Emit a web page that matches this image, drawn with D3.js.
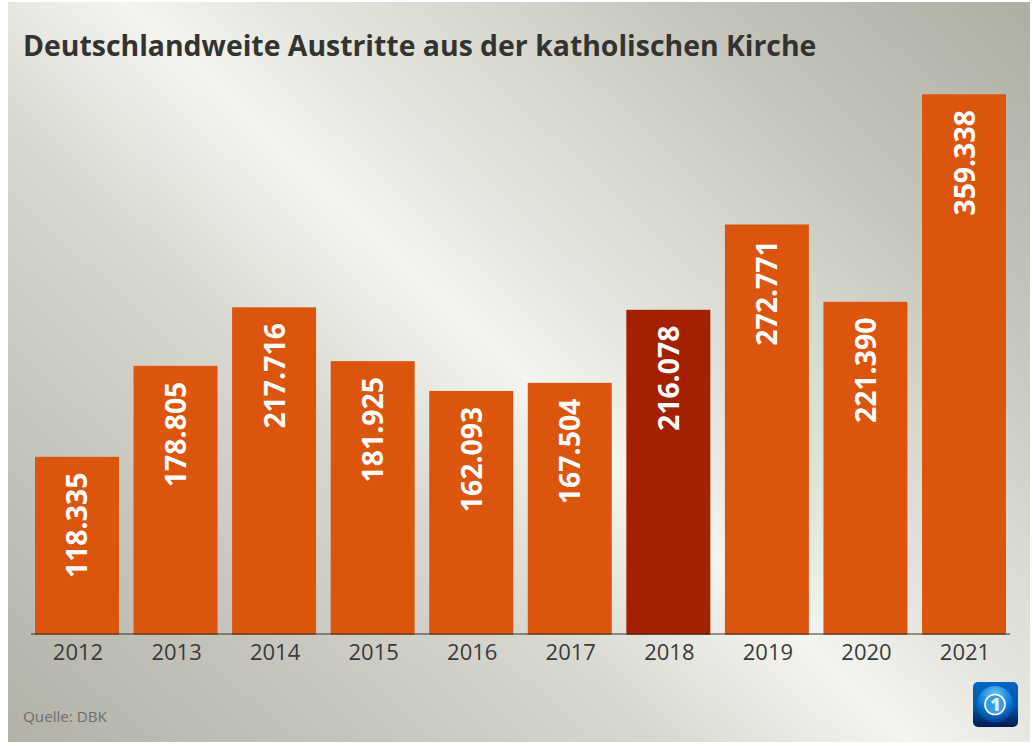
<!DOCTYPE html>
<html><head><meta charset="utf-8">
<script src="https://d3js.org/d3.v7.min.js"></script>
<style>html,body{margin:0;padding:0;background:#fff}svg{display:block}</style></head>
<body><svg id="c" width="1033" height="746"></svg>
<script>
const years=["2012","2013","2014","2015","2016","2017","2018","2019","2020","2021"];
const values=[118335,178805,217716,181925,162093,167504,216078,272771,221390,359338];
const labels=["118.335","178.805","217.716","181.925","162.093","167.504","216.078","272.771","221.390","359.338"];
const highlightYear="2018";
const titleText="Deutschlandweite Austritte aus der katholischen Kirche";
const sourceText="Quelle: DBK";
const font="'Open Sans','Noto Sans',sans-serif";
const svg=d3.select("#c");
const defs=svg.append("defs");
const bgGrad=defs.append("linearGradient").attr("id","bg").attr("gradientUnits","userSpaceOnUse")
 .attr("x1",94).attr("y1",822).attr("x2",944).attr("y2",-78);
[[0,"#b2b2a7"],[0.2,"#c6c6be"],[0.36,"#d8d8d1"],[0.44,"#e9e9e3"],[0.5,"#f4f5f0"],[0.58,"#e6e6e0"],[0.68,"#d9d9d2"],[0.8,"#c6c6bd"],[1,"#aeaea3"]]
 .forEach(s=>bgGrad.append("stop").attr("offset",s[0]).attr("stop-color",s[1]));
svg.append("rect").attr("x",8).attr("y",2).attr("width",1022).attr("height",740).attr("fill","url(#bg)");
const x=d3.scaleBand().domain(years).range([35,1006]).paddingInner(0.148).paddingOuter(0);
const y=d3.scaleLinear().domain([0,359338]).range([634.8,94.3]);
svg.append("g").selectAll("rect").data(years).join("rect")
 .attr("x",d=>x(d)).attr("width",x.bandwidth())
 .attr("y",(d,i)=>y(values[i])).attr("height",(d,i)=>y(0)-y(values[i]))
 .attr("fill",d=>d===highlightYear?"#a32000":"#dc550c");
svg.append("g").selectAll("text").data(years).join("text")
 .attr("transform",(d,i)=>`translate(${x(d)+x.bandwidth()/2+10.5},${y(values[i])+15.8}) rotate(-90)`)
 .attr("text-anchor","end").attr("fill","#fff").attr("font-family",font).attr("font-weight",700).attr("font-size",28.4)
 .text((d,i)=>labels[i]);
const axis=d3.axisBottom(x).tickSize(0).tickPadding(10);
const ax=svg.append("g").attr("transform","translate(0,634)").call(axis);
ax.select(".domain").attr("stroke","#333").attr("stroke-width",1.2).attr("d","M31,0H1010");
ax.selectAll("text").attr("dx",1).attr("font-family",font).attr("font-size",22).attr("fill","#3a3a3a");
svg.append("text").attr("x",23).attr("y",56).attr("font-family",font).attr("font-weight",700).attr("font-size",28.4).attr("fill","#333330").text(titleText);
svg.append("text").attr("x",23).attr("y",722).attr("font-family",font).attr("font-size",15.2).attr("fill","#6f6f6f").text(sourceText);
// logo
const lb=defs.append("linearGradient").attr("id","lb").attr("x1",0).attr("y1",0).attr("x2",0).attr("y2",1);
[[0,"#0268c4"],[0.55,"#0256a8"],[1,"#001a50"]].forEach(s=>lb.append("stop").attr("offset",s[0]).attr("stop-color",s[1]));
const lr=defs.append("radialGradient").attr("id","lr").attr("cx",0.5).attr("cy",0.25).attr("r",0.8);
[[0,"#6cc8f8"],[0.55,"#0c7cd8"],[1,"#012f80"]].forEach(s=>lr.append("stop").attr("offset",s[0]).attr("stop-color",s[1]));
const L=svg.append("g").attr("transform","translate(973,682)");
L.append("rect").attr("width",45).attr("height",45).attr("rx",5).attr("fill","url(#lb)");
L.append("circle").attr("cx",22).attr("cy",22.5).attr("r",18.5).attr("fill","url(#lr)");
L.append("circle").attr("cx",22).attr("cy",22.5).attr("r",10).attr("fill","#3d9be4").attr("stroke","#fff").attr("stroke-width",1.6);
L.append("text").attr("x",22.5).attr("y",29).attr("text-anchor","middle").attr("font-family",font).attr("font-weight",800).attr("font-size",18).attr("fill","#d8ecfa").text("1");
</script></body></html>
